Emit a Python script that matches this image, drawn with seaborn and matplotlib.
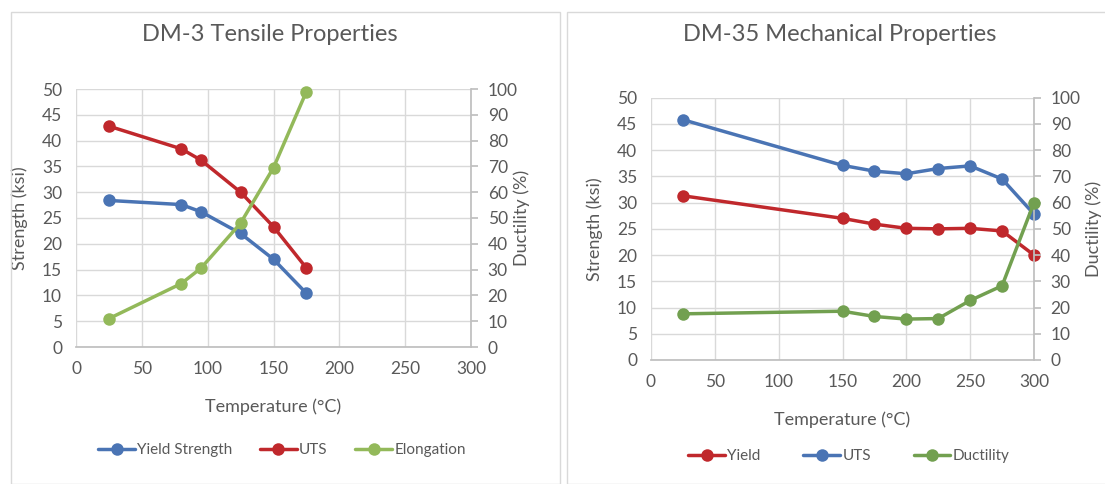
import matplotlib
matplotlib.use("Agg")
import matplotlib.pyplot as plt
from matplotlib.patches import Rectangle
import seaborn as sns

# DM-3 tensile data
dm3_temp = [25, 80, 95, 125, 150, 175]
dm3_yield = [28.4, 27.6, 26.2, 22.0, 17.0, 10.4]
dm3_uts = [42.8, 38.4, 36.2, 30.0, 23.3, 15.3]
dm3_elong = [11.0, 24.6, 30.6, 48.0, 69.5, 99.0]

# DM-35 mechanical data
dm35_temp = [25, 150, 175, 200, 225, 250, 275, 300]
dm35_yield = [31.3, 27.0, 25.9, 25.1, 25.0, 25.1, 24.6, 20.0]
dm35_uts = [45.8, 37.1, 36.0, 35.5, 36.5, 37.0, 34.5, 27.8]
dm35_duct = [17.6, 18.6, 16.6, 15.6, 15.8, 22.7, 28.3, 60.0]

x_ticks = [0, 50, 100, 150, 200, 250, 300]

sns.set_theme(style="white")
plt.rcParams['font.family'] = ['Lato', 'DejaVu Sans']

BLUE = '#4a74b4'
RED = '#c0282c'
GREEN_L = '#93b95a'
GREEN_D = '#72a050'
TXT = '#595959'
GRID = '#d9d9d9'

fig = plt.figure(figsize=(11.05, 4.84), dpi=100)

# panel frames (in pixels, converted)
W, H = 1105, 484
fig.patches.append(Rectangle((11 / W, 0), (560 - 11) / W, (484 - 12) / H, transform=fig.transFigure,
                             fill=False, edgecolor=GRID, lw=1))
fig.patches.append(Rectangle((567 / W, 0), (1120 - 567) / W, (484 - 12) / H, transform=fig.transFigure,
                             fill=False, edgecolor=GRID, lw=1))


def style_axes(ax, ax2, ylab_x, duct_x, xlab_y):
    ax.set_xlim(0, 300)
    ax.set_ylim(0, 50)
    ax2.set_ylim(0, 100)
    ax.set_xticks(x_ticks)
    ax.set_yticks(range(0, 51, 5))
    ax2.set_yticks(range(0, 101, 10))
    ax.grid(True, color=GRID, lw=1)
    for a in (ax, ax2):
        for s in a.spines.values():
            s.set_visible(False)
    ax.spines['bottom'].set_visible(True)
    ax.spines['bottom'].set_color('#bfbfbf')
    ax2.spines['right'].set_visible(True)
    ax2.spines['right'].set_color('#bfbfbf')
    ax.tick_params(axis='y', length=0, pad=10, labelsize=12.5, labelcolor=TXT)
    ax.tick_params(axis='x', length=0, pad=10, labelsize=12.5, labelcolor=TXT)
    ax2.tick_params(axis='y', right=True, length=5, color='#bfbfbf', pad=7, labelsize=12.5, labelcolor=TXT)
    ax.set_xlabel('Temperature (°C)', fontsize=13, color=TXT)
    ax.set_ylabel('Strength (ksi)', fontsize=13, color=TXT)
    ax2.set_ylabel('Ductility (%)', fontsize=13, color=TXT, rotation=90)
    ax.xaxis.set_label_coords(0.5, xlab_y)
    ax.yaxis.set_label_coords(ylab_x, 0.5)
    ax2.yaxis.set_label_coords(duct_x, 0.5)
    for ln in ax.get_lines() + ax2.get_lines():
        ln.set_clip_on(False)
        ln.set_zorder(5)
    ax2.set_zorder(ax.get_zorder() + 1)


line_kw = dict(marker='o', markersize=9, markeredgewidth=0, lw=2.5, legend=False)

# ---- DM-3 ----
ax1 = fig.add_axes([76 / W, 1 - 347 / H, (471 - 76) / W, (347 - 89) / H])
ax1b = ax1.twinx()
sns.lineplot(x=dm3_temp, y=dm3_yield, ax=ax1, color=BLUE, label='Yield Strength', **line_kw)
sns.lineplot(x=dm3_temp, y=dm3_uts, ax=ax1, color=RED, label='UTS', **line_kw)
sns.lineplot(x=dm3_temp, y=dm3_elong, ax=ax1b, color=GREEN_L, label='Elongation', **line_kw)
style_axes(ax1, ax1b, -0.122, 1.107, -0.198)
ax1.set_title('DM-3 Tensile Properties', fontsize=17, color=TXT, x=(270 - 76) / (471 - 76),
              y=1 + (89 - 43) / (347 - 89), va='center')
h = ax1.get_lines() + ax1b.get_lines()
fig.legend(h, ['Yield Strength', 'UTS', 'Elongation'], loc='center', bbox_to_anchor=(282 / W, 1 - 450 / H),
           ncol=3, frameon=False, fontsize=11, labelcolor=TXT, handlelength=2.4, columnspacing=1.8,
           handletextpad=0.15)

# ---- DM-35 ----
ax2 = fig.add_axes([651 / W, 1 - 360 / H, (1034 - 651) / W, (360 - 97.7) / H])
ax2b = ax2.twinx()
sns.lineplot(x=dm35_temp, y=dm35_yield, ax=ax2, color=RED, label='Yield', **line_kw)
sns.lineplot(x=dm35_temp, y=dm35_uts, ax=ax2, color=BLUE, label='UTS', **line_kw)
sns.lineplot(x=dm35_temp, y=dm35_duct, ax=ax2b, color=GREEN_D, label='Ductility', **line_kw)
style_axes(ax2, ax2b, -0.125, 1.135, -0.198)
ax2.set_title('DM-35 Mechanical Properties', fontsize=17, color=TXT, x=(840 - 651) / (1034 - 651),
              y=1 + (97.7 - 43) / (360 - 97.7), va='center')
h = ax2.get_lines() + ax2b.get_lines()
fig.legend(h, ['Yield', 'UTS', 'Ductility'], loc='center', bbox_to_anchor=(849 / W, 1 - 456 / H),
           ncol=3, frameon=False, fontsize=11, labelcolor=TXT, handlelength=2.4, columnspacing=2.8,
           handletextpad=0.15)

fig.savefig('out.png', dpi=100)
